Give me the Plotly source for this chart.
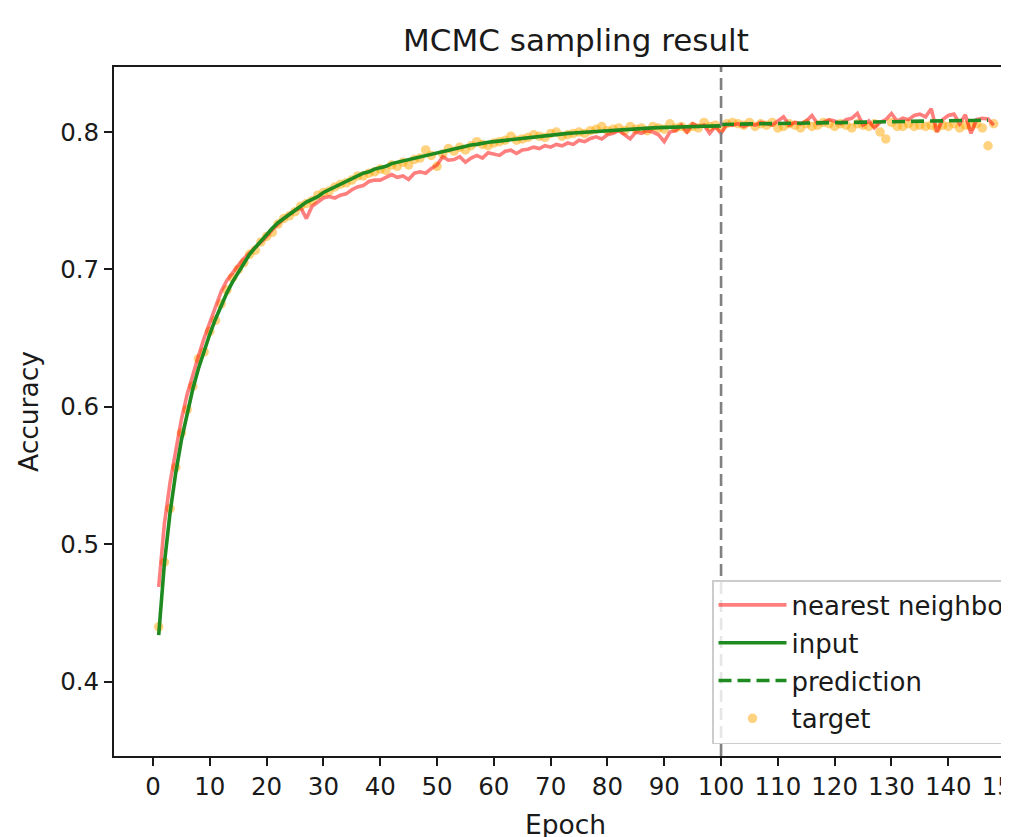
import plotly.graph_objects as go

# ---------------- data ----------------
epochs = list(range(1, 149))

target = [0.440, 0.487, 0.526, 0.556, 0.581, 0.598, 0.615, 0.635, 0.640, 0.655,
          0.663, 0.675, 0.685, 0.694, 0.700, 0.705, 0.711, 0.714, 0.720, 0.724,
          0.727, 0.733, 0.737, 0.739, 0.742, 0.746, 0.748, 0.750, 0.754, 0.756,
          0.757, 0.760, 0.762, 0.763, 0.765, 0.768, 0.768, 0.770, 0.771, 0.773,
          0.772, 0.776, 0.775, 0.778, 0.776, 0.780, 0.781, 0.787, 0.783, 0.775,
          0.784, 0.788, 0.786, 0.789, 0.787, 0.790, 0.793, 0.791, 0.790, 0.792,
          0.793, 0.794, 0.797, 0.794, 0.795, 0.796, 0.798, 0.797, 0.796, 0.799,
          0.800, 0.797, 0.798, 0.799, 0.800, 0.799, 0.801, 0.802, 0.804, 0.801,
          0.802, 0.803, 0.801, 0.804, 0.802, 0.803, 0.801, 0.804, 0.803, 0.802,
          0.806, 0.803, 0.804, 0.802, 0.804, 0.803, 0.807, 0.804, 0.805, 0.803,
          0.806, 0.807, 0.806, 0.805, 0.807, 0.804, 0.806, 0.805, 0.807, 0.803,
          0.804, 0.806, 0.805, 0.803, 0.806, 0.804, 0.805, 0.807, 0.806, 0.804,
          0.806, 0.805, 0.803, 0.806, 0.805, 0.804, 0.806, 0.800, 0.795, 0.807,
          0.804, 0.804, 0.806, 0.804, 0.805, 0.804, 0.805, 0.803, 0.805, 0.804,
          0.806, 0.803, 0.805, 0.804, 0.806, 0.803, 0.790, 0.806]

nearest_neighbor = [0.469, 0.515, 0.545, 0.570, 0.591, 0.609, 0.624, 0.637, 0.650, 0.661,
                    0.672, 0.684, 0.692, 0.698, 0.703, 0.708, 0.712, 0.716, 0.720, 0.724,
                    0.729, 0.733, 0.737, 0.740, 0.743, 0.745, 0.737, 0.746, 0.749, 0.752,
                    0.753, 0.752, 0.754, 0.755, 0.758, 0.760, 0.761, 0.764, 0.765, 0.765,
                    0.767, 0.769, 0.767, 0.768, 0.7655, 0.770, 0.771, 0.770, 0.7735, 0.776,
                    0.782, 0.7795, 0.780, 0.782, 0.778, 0.781, 0.783, 0.781, 0.785, 0.784,
                    0.783, 0.786, 0.7868, 0.7844, 0.787, 0.7875, 0.789, 0.788, 0.790, 0.789,
                    0.791, 0.790, 0.792, 0.791, 0.794, 0.793, 0.7953, 0.7965, 0.795, 0.798,
                    0.799, 0.801, 0.798, 0.795, 0.800, 0.799, 0.801, 0.800, 0.798, 0.793,
                    0.800, 0.801, 0.805, 0.800, 0.806, 0.804, 0.805, 0.799, 0.804, 0.799,
                    0.8055, 0.805, 0.806, 0.804, 0.806, 0.805, 0.807, 0.806, 0.805, 0.808,
                    0.811, 0.805, 0.807, 0.806, 0.808, 0.812, 0.806, 0.807, 0.809, 0.808,
                    0.806, 0.809, 0.810, 0.8135, 0.805, 0.808, 0.803, 0.807, 0.809, 0.8135,
                    0.808, 0.810, 0.809, 0.812, 0.813, 0.811, 0.817, 0.800, 0.809, 0.812,
                    0.813, 0.806, 0.8125, 0.799, 0.809, 0.810, 0.8095, 0.805]

input_epochs = list(range(1, 101))
input_vals = [0.434, 0.486, 0.523, 0.552, 0.576, 0.596, 0.613, 0.628, 0.641, 0.653,
              0.664, 0.674, 0.683, 0.691, 0.698, 0.705, 0.711, 0.716, 0.721, 0.726,
              0.730, 0.734, 0.737, 0.740, 0.743, 0.746, 0.749, 0.751, 0.753, 0.756,
              0.758, 0.760, 0.762, 0.764, 0.766, 0.768, 0.770, 0.771, 0.773, 0.774,
              0.775, 0.777, 0.778, 0.779, 0.780, 0.781, 0.782, 0.783, 0.784, 0.785,
              0.786, 0.787, 0.788, 0.789, 0.790, 0.7905, 0.791, 0.792, 0.7925, 0.793,
              0.7935, 0.794, 0.7945, 0.795, 0.7955, 0.796, 0.7965, 0.797, 0.7975, 0.798,
              0.7983, 0.7986, 0.799, 0.7993, 0.7996, 0.800, 0.8003, 0.8006, 0.8009, 0.8012,
              0.8015, 0.8017, 0.802, 0.8022, 0.8024, 0.8026, 0.8028, 0.803, 0.8032, 0.8034,
              0.8035, 0.8036, 0.8038, 0.8039, 0.804, 0.8041, 0.8042, 0.8043, 0.8044, 0.8045]

pred_epochs = list(range(100, 148))
pred_vals = [0.8055, 0.8056, 0.8056, 0.8057, 0.8058, 0.8058, 0.8059, 0.8060, 0.8060, 0.8061,
             0.8062, 0.8062, 0.8063, 0.8064, 0.8064, 0.8065, 0.8066, 0.8066, 0.8067, 0.8068,
             0.8068, 0.8069, 0.8070, 0.8070, 0.8071, 0.8072, 0.8072, 0.8073, 0.8074, 0.8074,
             0.8075, 0.8076, 0.8076, 0.8077, 0.8078, 0.8078, 0.8079, 0.8080, 0.8080, 0.8081,
             0.8082, 0.8082, 0.8083, 0.8084, 0.8084, 0.8085, 0.8085, 0.8086]

split_epoch = 100
x_ticks = list(range(0, 151, 10))
y_ticks = [0.4, 0.5, 0.6, 0.7, 0.8]

# ---------------- figure ----------------
FONT = "DejaVu Sans"
INK = "#1a1a1a"
# the page body adds an 8px offset, so layout numbers are in figure coordinates
L, T, B = 106, 59, 89
PLOT_W = 1009 - L
PLOT_H = 837 - T - B

fig = go.Figure()

fig.add_trace(go.Scatter(
    x=epochs, y=target, mode="markers", name="target",
    marker=dict(color="rgba(255,165,0,0.5)", size=9.5, line=dict(width=0)),
    legendgroup="d", legendrank=4))
fig.add_trace(go.Scatter(
    x=epochs, y=nearest_neighbor, mode="lines", name="nearest neighbor",
    line=dict(color="rgba(255,0,0,0.5)", width=3.6),
    legendgroup="a", legendrank=1))
fig.add_trace(go.Scatter(
    x=input_epochs, y=input_vals, mode="lines", name="input",
    line=dict(color="#1f8a1f", width=3.6),
    legendgroup="b", legendrank=2))
fig.add_trace(go.Scatter(
    x=pred_epochs, y=pred_vals, mode="lines", name="prediction",
    line=dict(color="#1f8a1f", width=3.6, dash="13px,6px"),
    legendgroup="c", legendrank=3))

fig.add_vline(x=split_epoch, line=dict(color="gray", width=2.6, dash="12px,6px"))

fig.update_layout(
    width=1009, height=837,
    margin=dict(l=L, r=0, t=T, b=B, autoexpand=False),
    paper_bgcolor="white", plot_bgcolor="white",
    font=dict(family=FONT, size=24, color=INK),
    title=dict(text="MCMC sampling result", x=(568 - L) / PLOT_W, xref="paper", xanchor="center",
               y=1 - 32 / 837, yref="container", yanchor="middle",
               font=dict(size=31, family=FONT, color=INK)),
    showlegend=True,
    legend=dict(x=(704 - L) / PLOT_W, xanchor="left", y=1 - (572 - T) / PLOT_H, yanchor="top",
                bgcolor="rgba(255,255,255,0.8)", bordercolor="#cccccc", borderwidth=1.5,
                font=dict(size=26, family=FONT, color=INK),
                traceorder="grouped", tracegroupgap=1, itemwidth=68),
)

fig.update_xaxes(
    range=[-6.87, 152.1], tickvals=x_ticks, ticktext=[str(t) for t in x_ticks],
    showgrid=False, zeroline=False, showline=True, linecolor=INK, linewidth=2,
    mirror=True, ticks="outside", ticklen=8, tickwidth=2, tickcolor=INK,
    ticklabeloverflow="allow",
    tickfont=dict(size=24.5, family=FONT, color=INK),
    title=dict(text="Epoch", font=dict(size=26.5, family=FONT, color=INK), standoff=15),
)
fig.update_yaxes(
    range=[0.346, 0.8473], tickvals=y_ticks, ticktext=[f"{t:.1f}" for t in y_ticks],
    showgrid=False, zeroline=False, showline=True, linecolor=INK, linewidth=2,
    mirror=False, ticks="outside", ticklen=8, tickwidth=2, tickcolor=INK,
    tickfont=dict(size=24.5, family=FONT, color=INK),
    title=dict(text="Accuracy", font=dict(size=26.5, family=FONT, color=INK), standoff=14),
)

fig.write_html("out.html")
